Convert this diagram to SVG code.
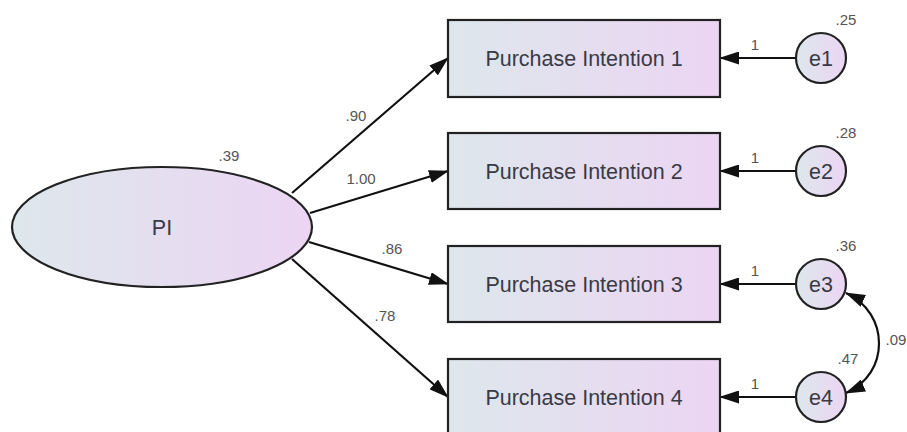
<svg xmlns="http://www.w3.org/2000/svg" width="907" height="432" viewBox="0 0 907 432">
<style>
.shape{stroke:#222;stroke-width:2.2}
.name{font-family:"Liberation Sans",Arial,sans-serif;font-size:21.5px;fill:#3a3a44;text-anchor:middle;dominant-baseline:central}
.num{font-family:"Liberation Sans",Arial,sans-serif;font-size:15px;fill:#555;text-anchor:middle;dominant-baseline:central}
.conn{stroke:#111;stroke-width:2.2;fill:none}
</style>
<defs>
<linearGradient id="g" x1="0" y1="0" x2="1" y2="0">
<stop offset="0" stop-color="#dde7ec"/>
<stop offset="1" stop-color="#ecd5f3"/>
</linearGradient>
<marker id="ah" markerUnits="userSpaceOnUse" markerWidth="20" markerHeight="13" refX="19" refY="6.5" orient="auto-start-reverse" viewBox="0 0 20 13">
<path d="M0,0 L20,6.5 L0,13 z" fill="#111"/>
</marker>
</defs>
<rect width="907" height="432" fill="#fff"/>
<g id="connectors">
<line class="conn" x1="292" y1="193" x2="448" y2="58" marker-end="url(#ah)"/>
<line class="conn" x1="310" y1="213" x2="448" y2="171" marker-end="url(#ah)"/>
<line class="conn" x1="309" y1="242" x2="448" y2="284" marker-end="url(#ah)"/>
<line class="conn" x1="292" y1="259" x2="448" y2="397" marker-end="url(#ah)"/>
<line class="conn" x1="795" y1="58" x2="720" y2="58" marker-end="url(#ah)"/>
<line class="conn" x1="795" y1="171" x2="720" y2="171" marker-end="url(#ah)"/>
<line class="conn" x1="795" y1="284" x2="720" y2="284" marker-end="url(#ah)"/>
<line class="conn" x1="795" y1="397" x2="720" y2="397" marker-end="url(#ah)"/>
<path class="conn" d="M846,293 C890,313 890,374 846,393" marker-start="url(#ah)" marker-end="url(#ah)"/>
<text class="num" x="356" y="115">.90</text>
<text class="num" x="361" y="178">1.00</text>
<text class="num" x="392" y="248">.86</text>
<text class="num" x="385" y="315">.78</text>
<text class="num" x="755" y="44">1</text>
<text class="num" x="755" y="157">1</text>
<text class="num" x="755" y="270">1</text>
<text class="num" x="755" y="383">1</text>
<text class="num" x="896" y="339">.09</text>
</g>
<g id="PI">
<ellipse class="shape" cx="162" cy="227" rx="150" ry="60" fill="url(#g)"/>
<text class="name" x="162" y="228">PI</text>
<text class="num" x="229" y="155">.39</text>
</g>
<g id="PI1">
<rect class="shape" x="448" y="20" width="272" height="77" fill="url(#g)"/>
<text class="name" x="584" y="59">Purchase Intention 1</text>
</g>
<g id="PI2">
<rect class="shape" x="448" y="133" width="272" height="76" fill="url(#g)"/>
<text class="name" x="584" y="172">Purchase Intention 2</text>
</g>
<g id="PI3">
<rect class="shape" x="448" y="246" width="272" height="76" fill="url(#g)"/>
<text class="name" x="584" y="285">Purchase Intention 3</text>
</g>
<g id="PI4">
<rect class="shape" x="448" y="359" width="272" height="77" fill="url(#g)"/>
<text class="name" x="584" y="398">Purchase Intention 4</text>
</g>
<g id="e1">
<circle class="shape" cx="821" cy="58" r="25" fill="url(#g)"/>
<text class="name" x="821" y="59">e1</text>
<text class="num" x="846" y="19">.25</text>
</g>
<g id="e2">
<circle class="shape" cx="821" cy="171" r="25" fill="url(#g)"/>
<text class="name" x="821" y="172">e2</text>
<text class="num" x="846" y="132">.28</text>
</g>
<g id="e3">
<circle class="shape" cx="821" cy="284" r="25" fill="url(#g)"/>
<text class="name" x="821" y="285">e3</text>
<text class="num" x="846" y="245">.36</text>
</g>
<g id="e4">
<circle class="shape" cx="821" cy="397" r="25" fill="url(#g)"/>
<text class="name" x="821" y="398">e4</text>
<text class="num" x="848" y="358">.47</text>
</g>
</svg>
